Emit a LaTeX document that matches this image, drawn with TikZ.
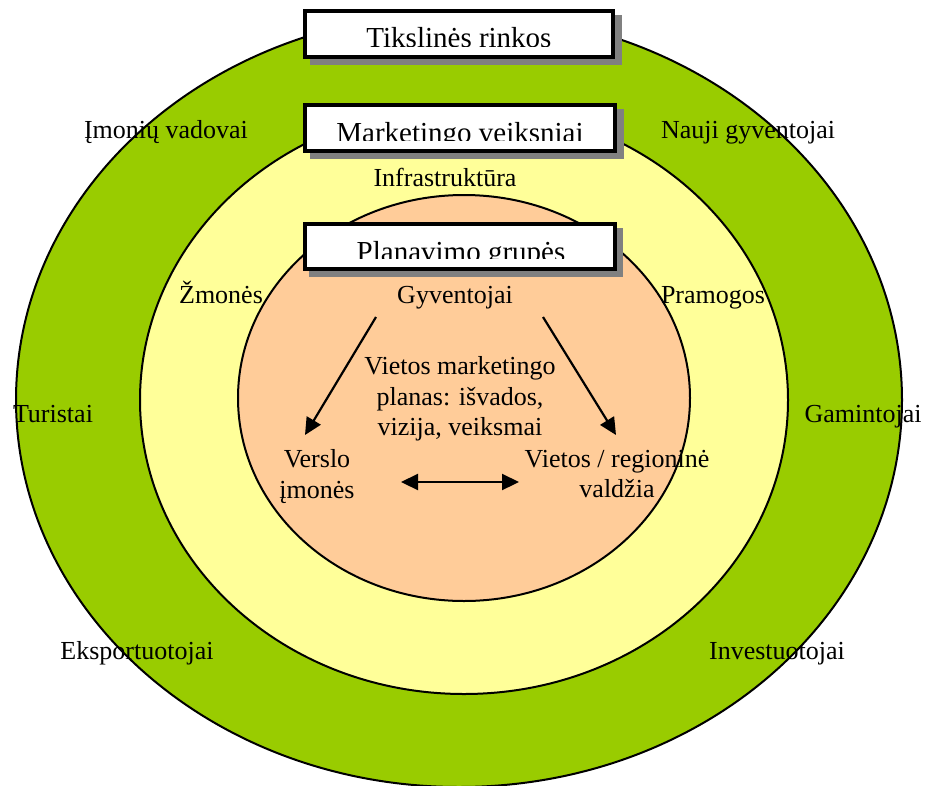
\documentclass[tikz,border=0pt]{standalone}
\usepackage{fontspec}
\setmainfont{Liberation Serif}
\usetikzlibrary{arrows.meta}
\definecolor{ringgreen}{HTML}{99CC00}
\definecolor{ringyellow}{HTML}{FFFF99}
\definecolor{ringorange}{HTML}{FFCC99}
\begin{document}
\begin{tikzpicture}[x=1pt,y=-1pt,
  ring/.style={draw=black, line width=2pt},
  lbl/.style={font=\fontsize{26}{30}\selectfont, inner sep=0pt, anchor=base},
  mlbl/.style={font=\fontsize{26}{30.5}\selectfont, inner sep=0pt, align=center},
  banner/.style={draw=black, line width=4pt, fill=white, inner sep=0pt},
  bannershadow/.style={fill=black!50, inner sep=0pt},
  bannertext/.style={font=\fontsize{29}{34}\selectfont, inner sep=0pt, anchor=base},
  head/.tip={Triangle[length=17pt,width=16pt]},
  flow/.style={line width=2.2pt, -head},
  bothflow/.style={line width=2.2pt, head-head},
  ]
\useasboundingbox (0,0) rectangle (929,785);

% nested rings
\path[ring, fill=ringgreen]  (459,400) ellipse [x radius=443, y radius=387];
\path[ring, fill=ringyellow] (464,400) ellipse [x radius=324, y radius=294];
\path[ring, fill=ringorange] (464,398) ellipse [x radius=226, y radius=203];

% outer ring labels
\node[lbl] (imvad)  at (166,138) {Įmonių vadovai};
\node[lbl] (naujgy) at (748,138) {Nauji gyventojai};
\node[lbl] (turist) at (53,422)  {Turistai};
\node[lbl] (gamint) at (863,422) {Gamintojai};
\node[lbl] (eksp)   at (137,659) {Eksportuotojai};
\node[lbl] (invest) at (777,659) {Investuotojai};

% middle ring labels
\node[lbl] (infra)  at (445,186) {Infrastruktūra};
\node[lbl] (zmon)   at (221,303) {Žmonės};
\node[lbl] (pram)   at (713,303) {Pramogos};

% inner ring labels
\node[lbl] (gyv)    at (455,303) {Gyventojai};
\node[mlbl] (plan)  at (460,399) {Vietos marketingo\\planas: išvados,\\vizija, veiksmai};
\node[mlbl] (versl) at (317,476.6) {Verslo\\įmonės};
\node[mlbl] (vald)  at (617,474) {Vietos / regioninė\\valdžia};

% connectors
\coordinate (gl) at (376,317);
\coordinate (gr) at (543,317);
\coordinate (vt) at (305,435);
\coordinate (rt) at (616,435);
\coordinate (hl) at (401,482);
\coordinate (hr) at (519,482);
\draw[flow] (gl) -- (vt);
\draw[flow] (gr) -- (rt);
\draw[bothflow] (hl) -- (hr);

% title banners with drop shadows
\node[bannershadow, minimum width=312, minimum height=50] (s1) at (466,40) {};
\node[banner, minimum width=308, minimum height=46] (b1) at (459,34) {};
\begin{scope}
  \clip (305,11) rectangle (613,46.5);
  \node[bannertext] (t1) at (459,47.5) {Tikslinės rinkos};
\end{scope}

\node[bannershadow, minimum width=314, minimum height=50] (s2) at (467,134) {};
\node[banner, minimum width=310, minimum height=46] (b2) at (460,128) {};
\begin{scope}
  \clip (305,105) rectangle (615,140);
  \node[bannertext] (t2) at (460,142.5) {Marketingo veiksniai};
\end{scope}

\node[bannershadow, minimum width=314, minimum height=49] (s3) at (466,252.5) {};
\node[banner, minimum width=310, minimum height=45] (b3) at (460,246.5) {};
\begin{scope}
  \clip (305,224) rectangle (615,258.3);
  \node[bannertext] (t3) at (461,261) {Planavimo grupės};
\end{scope}
\end{tikzpicture}
\end{document}
